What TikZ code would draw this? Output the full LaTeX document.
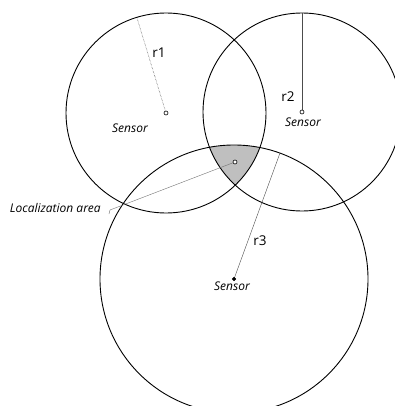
\documentclass[tikz,border=0pt]{standalone}
\usepackage{fontspec}
\setmainfont{Open Sans}
\begin{document}
\begin{tikzpicture}[x=1pt,y=-1pt,
  ring/.style={draw=black,line width=0.9pt},
  sdot/.style={circle,draw=black,fill=white,line width=0.6pt,inner sep=0pt,minimum size=4pt},
  fdot/.style={circle,draw=black,fill=black,inner sep=0pt,minimum size=3.5pt},
  rad/.style={draw=black!70,line width=0.4pt},
  lab/.style={font=\fontsize{13.5}{15}\selectfont,inner sep=0pt},
  sens/.style={font=\itshape\fontsize{12}{14}\selectfont,inner sep=0pt}]
\useasboundingbox (0,0) rectangle (395,406);
\clip (0,0) rectangle (395,406);
\coordinate (c1) at (166,113);
\coordinate (c2) at (302,112);
\coordinate (c3) at (234,279);
\begin{scope}
  \clip (c1) circle (100);
  \clip (c2) circle (99);
  \fill[black!25] (c3) circle (134);
\end{scope}
\draw[ring] (c1) circle (100);
\draw[ring] (c2) circle (99);
\draw[ring] (c3) circle (134);
\coordinate (e1) at (137,18);
\coordinate (e2) at (302,13);
\coordinate (e3) at (280,153);
\coordinate (la) at (110,210);
\draw[rad,densely dotted,line width=0.6pt] (c1) -- (e1);
\draw[rad] (c2) -- (e2);
\draw[rad] (c3) -- (e3);
\node[sdot] (s1) at (c1) {};
\node[sdot] (s2) at (c2) {};
\node[fdot] (s3) at (c3) {};
\node[sdot] (loc) at (235,162) {};
\draw[rad,black!55] (loc) -- (la) -- ++(-1,4);
\node[lab] (r1) at (159,53) {r1};
\node[lab] (r2) at (288,97) {r2};
\node[lab] (r3) at (260,241) {r3};
\node[sens] (t1) at (130,128) {Sensor};
\node[sens] (t2) at (303,122) {Sensor};
\node[sens] (t3) at (232,286) {Sensor};
\node[sens,anchor=east] (tl) at (101,208) {Localization area};
\end{tikzpicture}
\end{document}
